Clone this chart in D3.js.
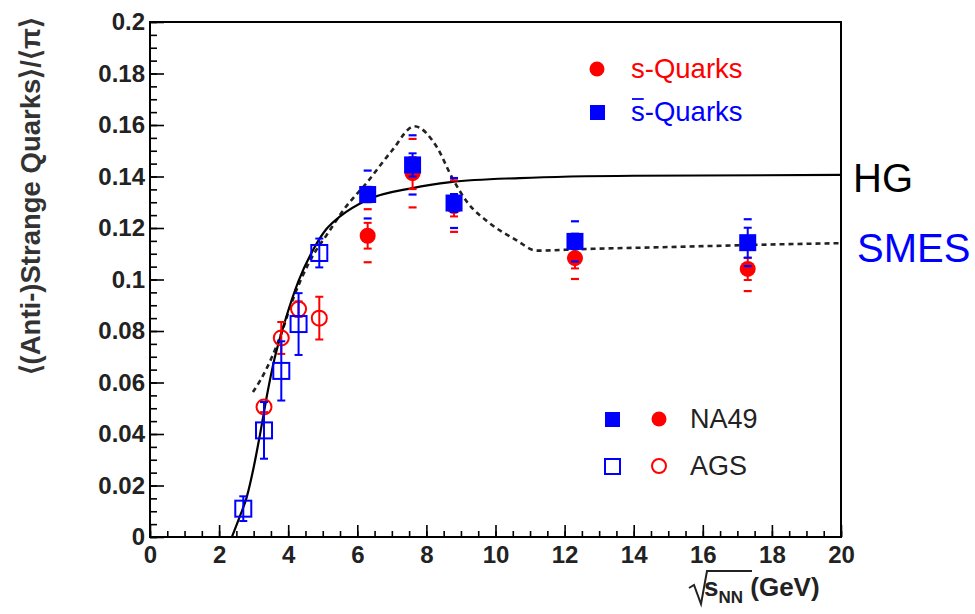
<!DOCTYPE html>
<html>
<head>
<meta charset="utf-8">
<script src="https://cdn.jsdelivr.net/npm/d3@7"></script>
<style>
body { margin: 0; background: #fff; }
svg { display: block; }
text { font-family: "Liberation Sans", Arial, Helvetica, sans-serif; }
</style>
</head>
<body>
<div id="chart"></div>
<script>
// NA49 points (filled markers)
var na49_energy = [6.3, 7.6, 8.8, 12.3, 17.3];
var na49_sbar      = [0.1330, 0.1445, 0.1297, 0.1148, 0.1143];
var na49_sbar_stat = [0.0030, 0.0045, 0.0035, 0.0030, 0.0058];
var na49_sbar_sys  = [0.0093, 0.0115, 0.0097, 0.0078, 0.0091];
var na49_s         = [0.1170, 0.1413, 0.1285, 0.1083, 0.1041];
var na49_s_stat    = [0.0050, 0.0062, 0.0040, 0.0040, 0.0043];
var na49_s_sys     = [0.0103, 0.0133, 0.0100, 0.0081, 0.0086];

// AGS points (open markers)
var ags_sbar_energy = [2.7, 3.3, 3.8, 4.3, 4.9];
var ags_sbar        = [0.0110, 0.0414, 0.0645, 0.0827, 0.1103];
var ags_sbar_err    = [0.0048, 0.0110, 0.0115, 0.0120, 0.0056];
var ags_s_energy    = [3.3, 3.8, 4.3, 4.9];
var ags_s           = [0.0505, 0.0773, 0.0885, 0.0850];
var ags_s_err       = [0.0020, 0.0062, 0.0030, 0.0083];

// model curves
var hg_energy = [2.37, 2.6, 2.8, 3.0, 3.2, 3.4, 3.6, 3.9, 4.3, 4.7, 5.1, 5.5, 6.3, 7.6, 8.7, 10.7, 14, 20];
var hg_value  = [0, 0.008, 0.0155, 0.027, 0.041, 0.056, 0.069, 0.0835, 0.0995, 0.111, 0.1195, 0.1245, 0.131, 0.1355, 0.1378, 0.1394, 0.1403, 0.1406];
var smes_energy = [2.98, 3.2, 3.5, 3.8, 4.1, 4.6, 5.2, 5.6, 6.3, 7.0, 7.65, 8.3, 8.75, 9.2, 9.8, 10.6, 11.2, 12.5, 15, 18.7, 20];
var smes_value  = [0.0563, 0.061, 0.069, 0.079, 0.091, 0.1065, 0.119, 0.127, 0.138, 0.150, 0.1595, 0.1515, 0.1394, 0.1297, 0.1222, 0.1153, 0.1112, 0.1118, 0.1126, 0.1138, 0.1141];

// axes
var x_ticks = [0, 2, 4, 6, 8, 10, 12, 14, 16, 18, 20];
var x_tick_labels = ["0", "2", "4", "6", "8", "10", "12", "14", "16", "18", "20"];
var y_ticks = [0, 0.02, 0.04, 0.06, 0.08, 0.1, 0.12, 0.14, 0.16, 0.18, 0.2];
var y_tick_labels = ["0", "0.02", "0.04", "0.06", "0.08", "0.1", "0.12", "0.14", "0.16", "0.18", "0.2"];

var width = 975, height = 614;
var frame = { left: 150, right: 841, top: 22, bottom: 537 };
var blue = "#0000ff", red = "#ff0000";

var svg = d3.select("#chart").append("svg")
	.attr("width", width)
	.attr("height", height);

var scaleX = d3.scaleLinear().domain([0, 20]).range([frame.left, frame.right]);
var scaleY = d3.scaleLinear().domain([0, 0.2]).range([frame.bottom, frame.top]);

var drawAxes = function()
{
	var minorX = d3.range(0, 20.01, 0.5);
	var minorY = d3.range(0, 0.2001, 0.005);

	svg.append("g")
		.attr("transform", "translate(0," + frame.bottom + ")")
		.call(d3.axisBottom(scaleX).tickValues(minorX).tickSize(-6).tickFormat(""))
		.call(function(g){ g.select(".domain").remove(); });

	svg.append("g")
		.attr("transform", "translate(" + frame.left + ",0)")
		.call(d3.axisLeft(scaleY).tickValues(minorY).tickSize(-7).tickFormat(""))
		.call(function(g){ g.select(".domain").remove(); });

	var gx = svg.append("g")
		.attr("transform", "translate(0," + frame.bottom + ")")
		.call(d3.axisBottom(scaleX).tickValues(x_ticks).tickSize(-12).tickPadding(9)
			.tickFormat(function(d, i){ return x_tick_labels[i]; }));
	gx.select(".domain").remove();

	var gy = svg.append("g")
		.attr("transform", "translate(" + frame.left + ",0)")
		.call(d3.axisLeft(scaleY).tickValues(y_ticks).tickSize(-14).tickPadding(5)
			.tickFormat(function(d, i){ return y_tick_labels[i]; }));
	gy.select(".domain").remove();

	svg.selectAll(".tick line").style("stroke", "#000").style("stroke-width", 1.6);
	svg.selectAll(".tick text")
		.style("font-family", "'Liberation Sans', Arial, sans-serif")
		.style("font-size", "24px")
		.style("font-weight", "bold")
		.style("fill", "#222");

	svg.append("rect")
		.attr("x", frame.left)
		.attr("y", frame.top)
		.attr("width", frame.right - frame.left)
		.attr("height", frame.bottom - frame.top)
		.style("fill", "none")
		.style("stroke", "#000")
		.style("stroke-width", 2);

	// y title
	svg.append("text")
		.attr("transform", "translate(40,17) rotate(-90)")
		.style("text-anchor", "end")
		.style("font-size", "27.5px")
		.style("font-weight", "bold")
		.style("fill", "#333")
		.text("\u27E8(Anti-)Strange Quarks\u27E9/\u27E8\u03C0\u27E9");

	// x title: sqrt(s_NN) (GeV)
	svg.append("path")
		.attr("d", "M689,588 L694,585 L701,604 L707,571 L752,571")
		.style("fill", "none")
		.style("stroke", "#222")
		.style("stroke-width", 2);
	var xt = svg.append("text")
		.attr("x", 704)
		.attr("y", 596)
		.style("font-size", "26px")
		.style("font-weight", "bold")
		.style("fill", "#222");
	xt.append("tspan").text("s");
	xt.append("tspan").attr("dy", 7).style("font-size", "17px").text("NN");
	xt.append("tspan").attr("dy", -7).text(" (GeV)");
}

var drawCurves = function()
{
	var line = d3.line()
		.x(function(d){ return scaleX(d[0]); })
		.y(function(d){ return scaleY(d[1]); })
		.curve(d3.curveMonotoneX);

	svg.append("path")
		.attr("d", line(d3.zip(smes_energy, smes_value)))
		.style("fill", "none")
		.style("stroke", "#222")
		.style("stroke-width", 2.6)
		.style("stroke-dasharray", "5,4");

	svg.append("path")
		.attr("d", line(d3.zip(hg_energy, hg_value)))
		.style("fill", "none")
		.style("stroke", "#000")
		.style("stroke-width", 2.2);
}

// vertical bar with caps
var drawStat = function(g, ex, vals, errs, color)
{
	vals.forEach(function(v, i){
		var cx = scaleX(ex[i]);
		var y1 = scaleY(v + errs[i]), y2 = scaleY(v - errs[i]);
		g.append("line").attr("x1", cx).attr("x2", cx).attr("y1", y1).attr("y2", y2)
			.style("stroke", color).style("stroke-width", 2);
		[y1, y2].forEach(function(yy){
			g.append("line").attr("x1", cx - 4).attr("x2", cx + 4).attr("y1", yy).attr("y2", yy)
				.style("stroke", color).style("stroke-width", 2);
		});
	});
}

// systematic errors shown as short dashes only
var drawSys = function(g, ex, vals, errs, color)
{
	vals.forEach(function(v, i){
		var cx = scaleX(ex[i]);
		[v + errs[i], v - errs[i]].forEach(function(e){
			g.append("line").attr("x1", cx - 4).attr("x2", cx + 4)
				.attr("y1", scaleY(e)).attr("y2", scaleY(e))
				.style("stroke", color).style("stroke-width", 2.2);
		});
	});
}

var drawPoints = function()
{
	var g = svg.append("g");

	// AGS open markers
	drawStat(g, ags_s_energy, ags_s, ags_s_err, red);
	g.selectAll(".ags_s").data(ags_s).enter()
		.append("circle")
		.attr("cx", function(d, i){ return scaleX(ags_s_energy[i]); })
		.attr("cy", function(d){ return scaleY(d); })
		.attr("r", 7.5)
		.style("fill", "none").style("stroke", red).style("stroke-width", 2);

	drawStat(g, ags_sbar_energy, ags_sbar, ags_sbar_err, blue);
	g.selectAll(".ags_sbar").data(ags_sbar).enter()
		.append("rect")
		.attr("x", function(d, i){ return scaleX(ags_sbar_energy[i]) - 8; })
		.attr("y", function(d){ return scaleY(d) - 8; })
		.attr("width", 16).attr("height", 16)
		.style("fill", "none").style("stroke", blue).style("stroke-width", 2);

	// NA49 s-quarks
	drawSys(g, na49_energy, na49_s, na49_s_sys, red);
	drawStat(g, na49_energy, na49_s, na49_s_stat, red);
	g.selectAll(".na49_s").data(na49_s).enter()
		.append("circle")
		.attr("cx", function(d, i){ return scaleX(na49_energy[i]); })
		.attr("cy", function(d){ return scaleY(d); })
		.attr("r", 8)
		.style("fill", red);

	// NA49 anti-s-quarks
	drawSys(g, na49_energy, na49_sbar, na49_sbar_sys, blue);
	drawStat(g, na49_energy, na49_sbar, na49_sbar_stat, blue);
	g.selectAll(".na49_sbar").data(na49_sbar).enter()
		.append("rect")
		.attr("x", function(d, i){ return scaleX(na49_energy[i]) - 8.5; })
		.attr("y", function(d){ return scaleY(d) - 8.5; })
		.attr("width", 17).attr("height", 17)
		.style("fill", blue);
}

var drawLegend = function()
{
	var g = svg.append("g");

	g.append("circle").attr("cx", 597).attr("cy", 69).attr("r", 7.5).style("fill", red);
	g.append("text").attr("x", 631).attr("y", 78)
		.style("font-size", "27.5px").style("fill", red).text("s-Quarks");

	g.append("rect").attr("x", 590).attr("y", 105).attr("width", 15).attr("height", 15).style("fill", blue);
	var sb = g.append("text").attr("x", 631).attr("y", 121)
		.style("font-size", "27.5px").style("fill", blue).text("s-Quarks");
	// bar over the s
	var s_len = sb.node().getSubStringLength(0, 1);
	g.append("line").attr("x1", 632).attr("x2", 631 + s_len - 1)
		.attr("y1", 99).attr("y2", 99)
		.style("stroke", blue).style("stroke-width", 1.8);

	g.append("rect").attr("x", 605).attr("y", 412).attr("width", 15).attr("height", 15).style("fill", blue);
	g.append("circle").attr("cx", 659).attr("cy", 419).attr("r", 7.5).style("fill", red);
	g.append("text").attr("x", 690).attr("y", 428)
		.style("font-size", "27px").style("fill", "#222").text("NA49");

	g.append("rect").attr("x", 605).attr("y", 459).attr("width", 15).attr("height", 15)
		.style("fill", "none").style("stroke", blue).style("stroke-width", 2);
	g.append("circle").attr("cx", 659).attr("cy", 466).attr("r", 7)
		.style("fill", "none").style("stroke", red).style("stroke-width", 2);
	g.append("text").attr("x", 690).attr("y", 475)
		.style("font-size", "27px").style("fill", "#222").text("AGS");

	// model labels outside the frame
	g.append("text").attr("x", 853).attr("y", 192)
		.style("font-size", "40px").style("fill", "#000").text("HG");
	g.append("text").attr("x", 857).attr("y", 262)
		.style("font-size", "40px").style("fill", blue).text("SMES");
}

drawCurves();
drawPoints();
drawAxes();
drawLegend();
</script>
</body>
</html>
